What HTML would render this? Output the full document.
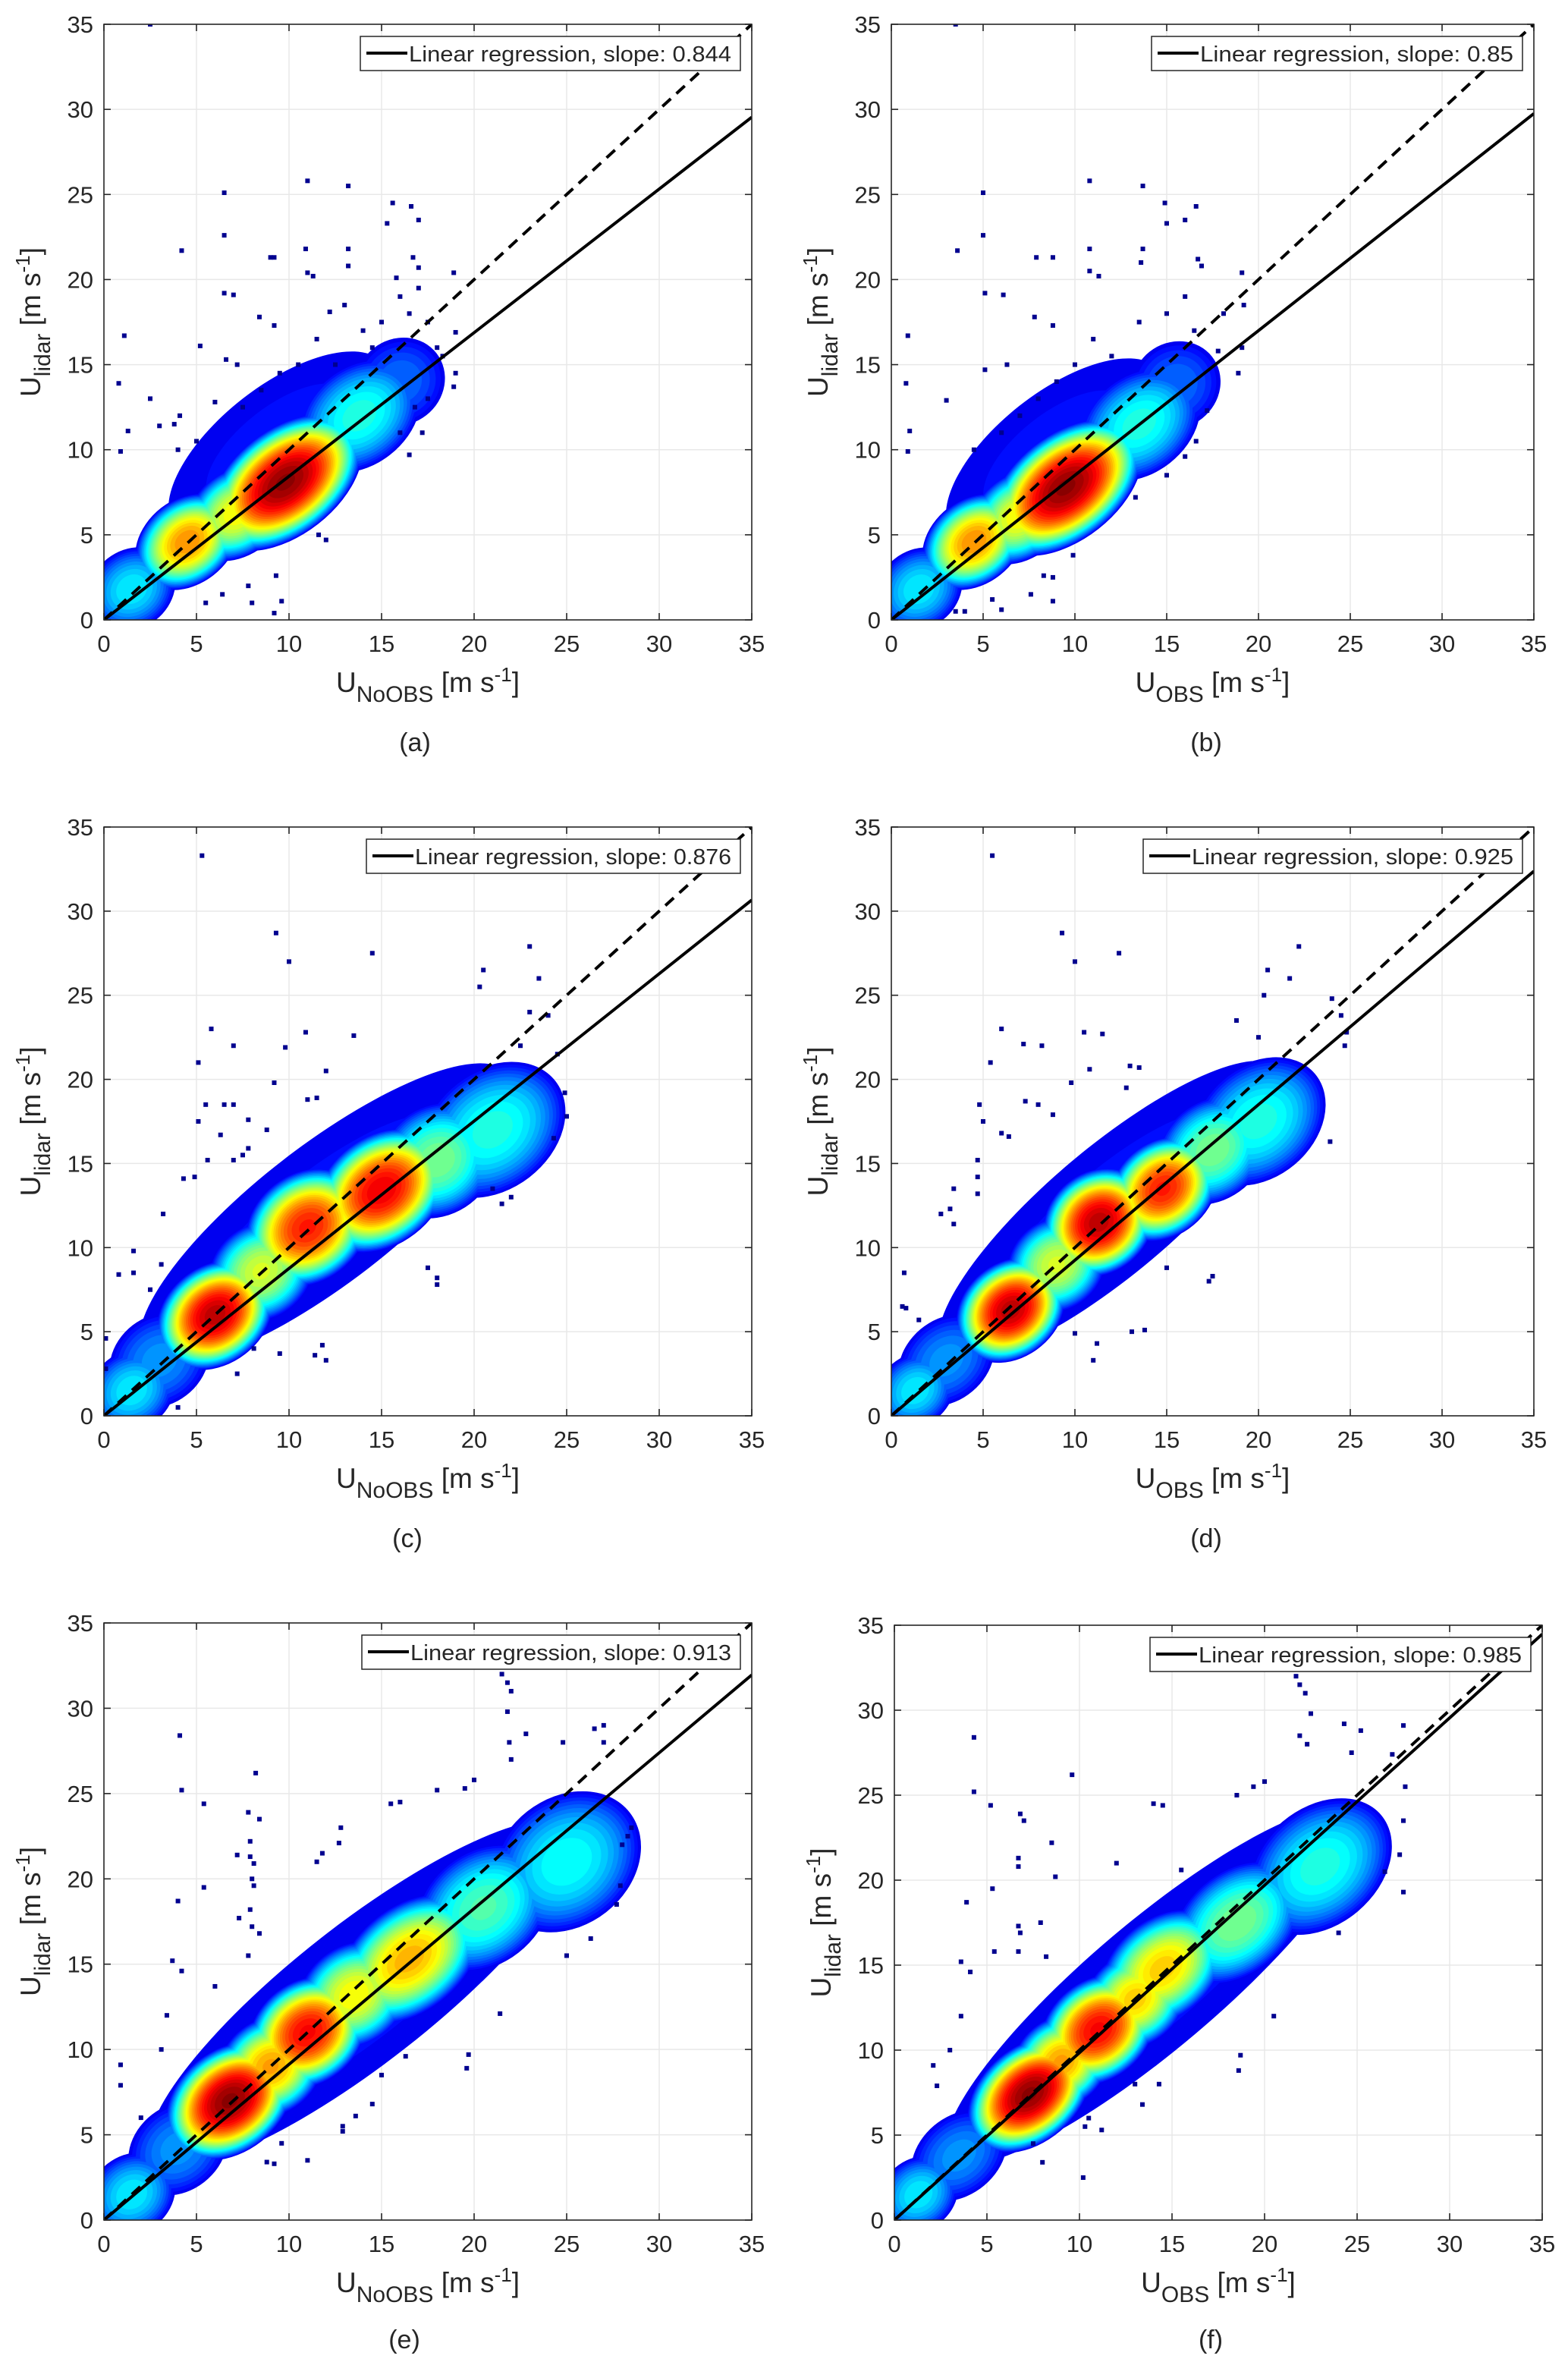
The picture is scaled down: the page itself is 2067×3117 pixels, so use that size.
<!DOCTYPE html>
<html><head><meta charset="utf-8"><style>html,body{margin:0;padding:0;background:#fff}svg{display:block}text{font-family:"Liberation Sans",Arial,sans-serif;fill:#262626}</style></head>
<body>
<svg id="fig" xmlns="http://www.w3.org/2000/svg" width="2067" height="3117" viewBox="0 0 2067 3117"></svg>
<script>
// ---- data ----
const slopes = [0.844, 0.85, 0.876, 0.925, 0.913, 0.985];
const panelLetters = ["(a)","(b)","(c)","(d)","(e)","(f)"];
const xSubs = ["NoOBS","OBS","NoOBS","OBS","NoOBS","OBS"];
const tickValues = [0,5,10,15,20,25,30,35];
const ridgeSlopes = [0.85,0.85,0.85,0.92,0.85,0.92];
const blobX = [[1.5,4.5,7.2,9.8,13.8,16.0,9.5],[1.5,4.5,7.0,9.5,13.5,15.5,9.0],[1.5,6.0,8.5,11.0,15.0,18.0,21.0,12.0,3],[1.3,6.5,9.0,11.3,14.8,17.5,20,12,3],[1.5,6.8,9.0,11.0,13.5,16.5,20.5,25.0,14,4],[1.3,7.3,9.0,11.0,13.0,14.5,18.5,23.0,14,3.5]];
const blobY = [[1.8,4.6,6.3,8.1,12.0,14.0,10.2],[1.8,4.6,6.1,7.8,11.5,13.8,9.8],[1.5,6.0,8.6,11.2,13.4,15.2,17.0,12.0,3.3],[1.5,6.3,9.0,11.5,13.5,15.8,17.5,12.2,3.3],[1.5,7.0,9.0,11.0,13.2,15.3,18.3,21.0,13.3,4.2],[1.5,7.4,9.3,11.2,13.0,14.8,17.5,20.8,13.8,3.8]];
const blobLen = [[2.6,3.2,3.2,5.0,3.8,2.6,7.5],[2.6,3.2,3.2,5.0,3.8,2.6,7.5],[2.6,3.6,3.2,3.8,4.2,3.6,4.5,13,3],[2.4,3.4,3.0,3.4,3.4,3.5,4.2,12.5,3],[2.6,4.0,3.2,3.6,3.4,4.6,4.2,4.5,15,3],[2.4,4.0,3.0,3.6,3.2,4.0,4.2,4.5,15,3]];
const blobWid = [[2.2,2.4,2.4,3.0,2.8,2.4,3.4],[2.2,2.4,2.4,3.0,2.8,2.4,3.4],[2.2,2.8,2.7,3.1,3.1,3.1,3.4,3.9,2.5],[2.0,2.7,2.6,2.9,2.7,2.8,3.2,3.6,2.3],[2.2,2.9,2.7,2.9,2.8,3.0,3.2,3.6,3.9,2.4],[2.0,2.7,2.5,2.8,2.6,2.8,2.9,3.3,3.6,2.2]];
const blobPeak = [[0.3,0.72,0.6,1.0,0.35,0.15,0.05],[0.3,0.72,0.6,1.0,0.35,0.15,0.05],[0.3,0.95,0.55,0.85,0.9,0.45,0.35,0.05,0.2],[0.3,0.95,0.55,0.95,0.85,0.45,0.35,0.05,0.2],[0.3,1.0,0.7,0.88,0.6,0.68,0.4,0.33,0.05,0.2],[0.3,1.0,0.7,0.88,0.65,0.65,0.45,0.35,0.05,0.2]];
const outX = [
[2.5,1.1,0.8,0.9,1.3,2.5,4.2,4.1,3.8,5.2,6.5,6.5,6.5,7.0,6.6,7.2,8.4,9.0,9.2,9.2,11,10.9,11.0,11.3,13.2,13.2,13.2,15.3,15.6,16.6,17.0,16.7,17.0,18.9,15.8,12.2,13.0,19,19,18.9,8.0,9.2,9.6,7.8,9.3,11.6,12,6.4,5.5,16.5,17.2,8.5,9.5,10.5,11.5,12.5,14,15,16,17,16.5,14.5,7.5,6,5,4,3,17.5,18,17.5,18.3,16.8,16],
[3.5,0.9,0.8,0.9,1,3.6,3,5,5,5.1,6.1,5.1,6.3,7.8,7.9,8.8,8.8,10.8,10.8,10.8,11.3,13.7,13.7,13.6,14.9,15,16,16.6,16.7,16.9,19.1,18.1,19.2,17.8,19.1,18.9,17.2,16,16.6,15,13.3,9.9,8.8,8.8,7.6,8.3,6,4,3.5,5.5,8,9,10,11,12,13.5,15,16,16.5,7,6,4.5],
[5.3,9.3,10,14.5,23,23.5,20.5,20.3,5.8,13.5,7,5.1,9.8,10.9,12,9.2,5.5,5.1,6.5,7,7.8,8.8,11,11.5,6.3,5.6,7,7.5,7.8,4.3,4.9,3.2,0.8,1.6,1.6,2.5,3.1,0.1,0.1,17.5,18,18,12,11.4,11.8,9.5,8.1,7.2,4,22.5,24.5,24,23,24.9,25,21.5,22,21,24.3],
[5.5,9.3,10,12.4,22.2,20.5,21.7,20.3,6,10.5,11.5,7.2,8.2,5.4,10.8,13,13.5,9.8,12.8,7.3,8,8.8,4.8,5,6,6.4,4.7,4.7,4.7,3.4,2.7,3.2,3.4,0.7,0.6,0.8,1.5,17.5,17.3,15,13.1,13.8,11,10,11.2,24,24.5,24.8,23.9,24.7,18.8,20],
[4.1,4.2,5.4,8.2,7.8,8.4,7.9,7.9,8.1,7.2,8,8.1,5.4,4,7.3,7.9,8,8.4,7.8,6,3.7,4.2,3.4,3.1,0.9,0.9,2,21.5,21.8,22,21.8,22.8,21.9,22,27,26.5,24.8,27,20,19.5,18,16,15.5,12.8,12.7,11.5,11.8,28.5,28.3,28,27.9,27.7,26.3,25,21.4,19.7,19.6,16.3,15,14.5,13.6,12.9,12.9,9.6,9.2,8.8,11],
[4.3,4.3,5.2,9.6,6.8,7,8.5,6.7,6.7,8.7,5.3,3.9,7.9,6.7,6.8,5.4,6.7,8.2,3.6,4.1,3.6,3,2.1,2.3,21.7,21.9,22.2,22.5,21.9,22.3,24.3,25.2,26.9,27.5,24.7,20,19.4,18.5,14,14.5,12,15.5,27.5,27.6,27.3,27.5,26.5,24,20.5,18.7,18.6,14.3,13,13.4,11.2,10.3,10.5,8,7.5,10.2]];
const outY = [
[35,16.7,13.9,9.9,11.1,13,21.7,12,11.5,16.1,25.1,22.6,19.2,19.1,15.3,15,17.8,21.3,21.3,17.3,25.8,21.8,20.4,20.2,25.5,21.8,20.8,23.3,24.5,24.3,23.5,21.3,20.7,20.4,20.1,18.1,18.5,16.9,14.5,13.7,1,0.4,1.1,2,2.6,5,4.7,1.5,1.0,9.7,11,13.5,14.5,15,16.5,15,17,17.5,19,19.5,18,16,12.5,12.8,10.5,10,11.4,17.5,16,13,15.5,12.5,11],
[35,16.7,13.9,9.9,11.1,21.7,12.9,25.1,22.6,19.2,19.1,14.7,15,17.8,21.3,21.3,17.3,25.8,21.8,20.5,20.2,25.5,21.8,21,24.5,23.3,23.5,24.3,21.2,20.8,20.4,18,18.5,15.8,16,14.5,12.3,9.6,10.5,8.5,7.2,3.8,1.1,2.5,1.5,2.6,0.6,0.5,0.5,1.2,13,14,15,16.5,15.5,17.5,18,19,17,12,11,10],
[33.3,28.7,27,27.5,27.9,26,26.5,25.5,23,22.6,22,21,21.9,22.8,20.5,19.8,18.5,17.5,18.5,18.5,17.6,17,18.8,18.9,16.7,15.2,15.2,15.5,15.9,14.1,14.2,12,8.4,9.8,8.5,7.5,9,4.6,2.8,8.8,8.2,7.8,3.3,3.6,4.2,3.7,4,2.5,0.5,22,21.5,23.8,24,19.2,17.8,12.6,13,13.5,16.5],
[33.3,28.7,27,27.5,27.9,26.5,26,25,23,22.8,22.7,22.1,22,21,20.6,20.8,20.7,19.8,19.5,18.7,18.5,17.9,18.5,17.5,16.8,16.6,15.2,14.2,13.2,13.5,12,12.3,11.4,8.5,6.5,6.4,5.7,8.3,8,8.8,5,5.1,3.3,4.9,4.3,24.8,23.8,22.8,16.3,22,23.5,22.5],
[28.4,25.2,24.4,26.2,23.9,23.5,22.2,21.3,20.9,21.4,20,19.6,19.5,18.7,17.7,18.2,17.2,16.8,15.5,13.7,15.2,14.6,12,10,9.1,7.9,6,32,31.5,31,29.8,28.5,28,27,29,28.8,28,28,25.8,25.3,25.2,24.5,24.4,23,22.1,21,21.5,23,22.5,22,19.6,18.5,16.5,15.5,12.1,9.7,8.9,9.6,8.5,6.8,6.1,5.5,5.2,4.5,3.3,3.4,3.5],
[28.4,25.2,24.4,26.2,23.9,23.5,22.2,21.3,20.8,20.2,19.5,18.7,17.5,17.3,16.9,15.8,15.8,15.5,15.2,14.6,12,10,9.1,7.9,32,31.5,31,29.8,28.5,28,29.2,28.8,27.4,29.1,27.5,25.8,25.5,25,24.5,24.4,21,20.6,23.5,25.5,21.5,19.3,20.5,16.9,12,9.7,8.8,8,8,6.8,5.3,5.5,6,3.4,4.5,2.5]];

// ---- layout ----
const axL = [137,1175,137,1175,137,1179];
const axR = [991,2022,991,2022,991,2033];
const axT = [32,32,1090,1090,2139,2142];
const axB = [817,817,1866,1866,2926,2926];
const legL = [475,1518,483,1507,477,1516];
const letterX = [547,1590,537,1590,533,1596];
const letterY = [990,990,2039,2039,3095,3095];

const NS = "http://www.w3.org/2000/svg";
const svg = document.getElementById('fig');
function mk(tag, attrs, parent){ const e=document.createElementNS(NS,tag); for(const k in attrs) e.setAttribute(k,attrs[k]); (parent||svg).appendChild(e); return e; }
function clamp(v){ return Math.max(0,Math.min(1,v)); }
function jet(v){ const r=clamp(1.5-Math.abs(4*v-3)), g=clamp(1.5-Math.abs(4*v-2)), b=clamp(1.5-Math.abs(4*v-1)); return `rgb(${Math.round(r*255)},${Math.round(g*255)},${Math.round(b*255)})`; }

for (let p=0;p<6;p++){
  const L=axL[p],R=axR[p],T=axT[p],B=axB[p];
  const xs=(R-L)/35, ys=(B-T)/35;
  const X=v=>L+v*xs, Y=v=>B-v*ys;
  const g=mk('g',{});
  
  
  const clip=mk('clipPath',{id:'clip'+p},g);
  mk('rect',{x:L,y:T,width:R-L,height:B-T},clip);
  const grid=mk('g',{},g);
  
  
  tickValues.forEach(v=>{
    if(v>0&&v<35){
      mk('line',{x1:X(v),x2:X(v),y1:T,y2:B,stroke:'#e8e8e8','stroke-width':1.5},grid);
      mk('line',{x1:L,x2:R,y1:Y(v),y2:Y(v),stroke:'#e8e8e8','stroke-width':1.5},grid);
    }
  });
  const cloud=mk('g',{'clip-path':'url(#clip'+p+')'},g);
  
  
  const ang=-Math.atan2(ridgeSlopes[p]*ys,xs)*180/Math.PI;
  const sc=(xs+ys)/2;
  for(let t=0;t<1;t+=0.03){
    const col=jet(0.11+0.89*t);
    for(let i=0;i<blobX[p].length;i++){
      const pk=blobPeak[p][i]; if(pk<=t) continue;
      const r=Math.pow(1-t/pk,0.45);
      const cx=X(blobX[p][i]), cy=Y(blobY[p][i]);
      mk('ellipse',{cx:cx,cy:cy,rx:blobLen[p][i]*sc*r,ry:blobWid[p][i]*sc*r,fill:col,transform:`rotate(${ang} ${cx} ${cy})`},cloud);
    }
  }
  for(let i=0;i<outX[p].length;i++){
    const s=mk('rect',{x:X(outX[p][i])-3,y:Y(outY[p][i])-3,width:6,height:6,fill:'#00008f'},cloud);
    
    
  }
  const one=mk('line',{x1:X(0),y1:Y(0),x2:X(35),y2:Y(35),stroke:'#000','stroke-width':4,'stroke-dasharray':'15 10','clip-path':'url(#clip'+p+')'},g);
  
  
  const reg=mk('line',{x1:X(0),y1:Y(0),x2:X(35),y2:Y(35*slopes[p]),stroke:'#000','stroke-width':4,'clip-path':'url(#clip'+p+')'},g);
  
  
  const box=mk('rect',{x:L,y:T,width:R-L,height:B-T,fill:'none',stroke:'#262626','stroke-width':1.6},g);
  
  
  tickValues.forEach(v=>{
    mk('line',{x1:X(v),x2:X(v),y1:B,y2:B-9,stroke:'#262626','stroke-width':1.6},g);
    mk('line',{x1:X(v),x2:X(v),y1:T,y2:T+9,stroke:'#262626','stroke-width':1.6},g);
    mk('line',{x1:L,x2:L+9,y1:Y(v),y2:Y(v),stroke:'#262626','stroke-width':1.6},g);
    mk('line',{x1:R,x2:R-9,y1:Y(v),y2:Y(v),stroke:'#262626','stroke-width':1.6},g);
    const xt=mk('text',{x:X(v),y:B+42,'font-size':31,'text-anchor':'middle'},g);
    xt.textContent=v;
    
    
    const yt=mk('text',{x:L-14,y:Y(v)+11,'font-size':31,'text-anchor':'end'},g);
    yt.textContent=v;
    
    
  });
  const xl=mk('text',{x:(L+R)/2,y:B+95,'font-size':37,'text-anchor':'middle'},g);
  
  
  xl.innerHTML=`U<tspan font-size="30" dy="13">${xSubs[p]}</tspan><tspan dy="-13"> [m s</tspan><tspan font-size="26" dy="-14">-1</tspan><tspan dy="14">]</tspan>`;
  const yl=mk('text',{x:0,y:0,'font-size':37,'text-anchor':'middle',transform:`translate(${L-84},${(T+B)/2}) rotate(-90)`},g);
  
  
  yl.innerHTML=`U<tspan font-size="30" dy="13">lidar</tspan><tspan dy="-13"> [m s</tspan><tspan font-size="26" dy="-14">-1</tspan><tspan dy="14">]</tspan>`;
  const lg=mk('g',{},g);
  
  
  const lt=T+16, lr=R-15;
  mk('rect',{x:legL[p],y:lt,width:lr-legL[p],height:45,fill:'#fff',stroke:'#262626','stroke-width':1.5},lg);
  mk('line',{x1:legL[p]+8,x2:legL[p]+62,y1:lt+22,y2:lt+22,stroke:'#000','stroke-width':4},lg);
  const ltx=mk('text',{x:legL[p]+64,y:lt+33,'font-size':29,textLength:lr-legL[p]-76,lengthAdjust:'spacingAndGlyphs'},lg);
  ltx.textContent='Linear regression, slope: '+slopes[p];
  
  
  const pl=mk('text',{x:letterX[p],y:letterY[p],'font-size':34,'text-anchor':'middle'},g);
  pl.textContent=panelLetters[p];
  
  
}
</script>
</body></html>
